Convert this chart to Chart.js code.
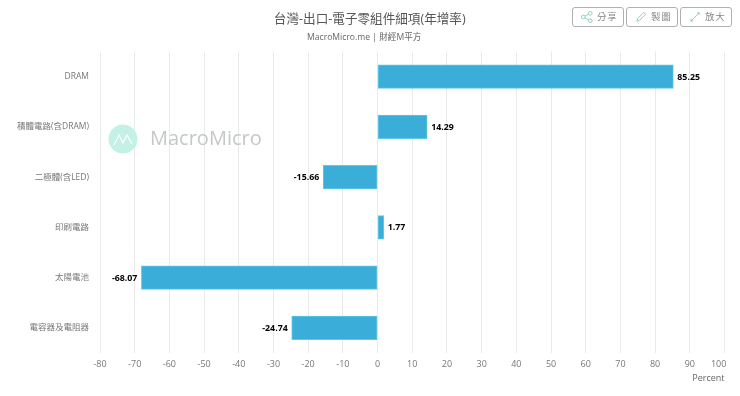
<!DOCTYPE html>
<html><head><meta charset="utf-8">
<script src="https://cdn.jsdelivr.net/npm/chart.js@4"></script>
<style>
html,body{margin:0;padding:0;background:#fff;}
#wrap{position:relative;width:740px;height:396px;overflow:hidden;font-family:"Open Sans","Noto Sans CJK TC",sans-serif;}
canvas{position:absolute;left:0;top:0;}
.btn{position:absolute;top:7px;height:18px;border:1px solid #b0b0b0;border-radius:3px;background:#fff;color:#888;font-size:9.5px;line-height:18px;}
.btn svg{position:absolute;left:8px;top:3px;}
.btn span{position:absolute;left:24px;top:0;white-space:nowrap;letter-spacing:.8px;}
</style></head><body>
<div id="wrap">
<canvas id="c" width="740" height="396"></canvas>
<div class="btn" style="left:572px;width:50px"><svg width="12" height="12" viewBox="0 0 13 13" fill="none" stroke="#8cb" stroke-width="1"><circle cx="2.5" cy="6.5" r="2"/><circle cx="10" cy="2.5" r="2"/><circle cx="10" cy="10.5" r="2"/><path d="M4.3 5.5L8.2 3.4M4.3 7.5L8.2 9.6"/></svg><span>分享</span></div>
<div class="btn" style="left:626px;width:50px"><svg width="12" height="12" viewBox="0 0 13 13" fill="none" stroke="#8cb" stroke-width="1"><path d="M2 11L3 8L9.5 1.5L11.5 3.5L5 10Z"/></svg><span>製圖</span></div>
<div class="btn" style="left:680px;width:50px"><svg width="12" height="12" viewBox="0 0 13 13" fill="none" stroke="#8cb" stroke-width="1"><path d="M2 11L11 2M8.5 2H11V4.5M2 8.5V11H4.5"/></svg><span>放大</span></div>
</div>
<script>
const categories = ["DRAM","積體電路(含DRAM)","二極體(含LED)","印刷電路","太陽電池","電容器及電阻器"];
const values = [85.25,14.29,-15.66,1.77,-68.07,-24.74];
const titleText = "台灣-出口-電子零組件細項(年增率)";
const subtitleText = "MacroMicro.me | 財經M平方";
const axisUnit = "Percent";
const FONT = '"Open Sans","Noto Sans CJK TC",sans-serif';

const extras = {
  id:'extras',
  beforeDatasetsDraw(chart){
    const c = chart.ctx; c.save();
    c.fillStyle='#c4f1e6';
    c.beginPath(); c.arc(123,139,14.5,0,Math.PI*2); c.fill();
    c.strokeStyle='#fff'; c.lineWidth=1.2; c.beginPath();
    c.moveTo(114,145);c.lineTo(119,135);c.lineTo(123,143);c.lineTo(127,135);c.lineTo(132,144);c.stroke();
    c.fillStyle='#c4c8c8'; c.font='20px '+FONT; c.textBaseline='middle'; c.textAlign='left';
    c.fillText('MacroMicro',150,139.5);
    c.restore();
  },
  afterDatasetsDraw(chart){
    const c = chart.ctx, meta = chart.getDatasetMeta(0);
    c.save();
    c.font='bold 8.8px '+FONT; c.textBaseline='middle';
    c.lineJoin='round';
    meta.data.forEach((el,i)=>{
      const v = values[i], t = v.toFixed(2);
      c.textAlign = v>=0?'left':'right';
      const x = el.x + (v>=0?4:-4);
      c.strokeStyle='rgba(255,255,255,.85)'; c.lineWidth=2.5; c.strokeText(t,x,el.y+0.5);
      c.fillStyle='#000'; c.fillText(t,x,el.y+0.5);
    });
    c.restore();
  }
};

new Chart(document.getElementById('c'),{
  type:'bar',
  data:{labels:categories,datasets:[{data:values,backgroundColor:'#3aaed8',borderColor:'#62c6e6',borderWidth:1,barThickness:23.5,borderSkipped:false}]},
  plugins:[extras],
  options:{
    indexAxis:'y',responsive:false,animation:false,
    layout:{padding:{left:15,right:15.5,top:12,bottom:12}},
    plugins:{
      legend:{display:false},tooltip:{enabled:false},
      title:{display:true,text:titleText,color:'#555',font:{family:FONT,size:12.6,weight:'normal'},padding:{top:0,bottom:5}},
      subtitle:{display:true,text:subtitleText+'     ',color:'#666',font:{family:FONT,size:8.6,weight:'normal'},padding:{top:0,bottom:9}}
    },
    scales:{
      x:{type:'linear',min:-80,max:100,
        afterBuildTicks(s){ s.ticks = s.ticks.filter(t=>t.value%10===0); },
        afterFit(s){ s.paddingLeft=0; s.paddingRight=0; s.height=31; },
        grid:{color:'#e9e9e9',lineWidth:1,drawTicks:false},
        border:{display:false},
        ticks:{stepSize:10,autoSkip:false,maxRotation:0,color:'#777',font:{family:FONT,size:9},padding:6,
          callback:v=>v===100?'100     ':String(v)},
        title:{display:true,text:axisUnit,align:'end',color:'#666',font:{family:FONT,size:9},padding:{top:2,bottom:0}}
      },
      y:{grid:{display:false},border:{display:false},
        afterFit(s){s.width=85; s.paddingTop=0; s.paddingBottom=0;},
        ticks:{color:'#777',font:{family:FONT,size:8.5},padding:3,autoSkip:false}
      }
    }
  }
});
</script>
</body></html>
